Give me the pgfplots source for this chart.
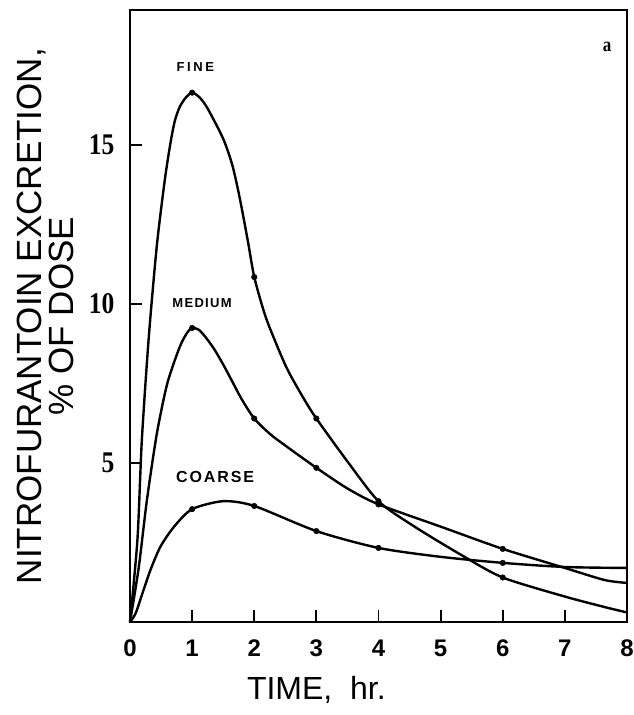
\documentclass[border=0pt]{standalone}
\usepackage{fontspec}
\setmainfont{Liberation Sans}
\newfontfamily\yfont[FakeStretch=0.85]{Liberation Serif}
\usepackage{pgfplots}
\pgfplotsset{compat=1.18}
\begin{document}
\begin{tikzpicture}
\begin{axis}[name=ax, scale only axis, width=497pt, height=612pt,
  xmin=0, xmax=8, ymin=0, ymax=19.25,
  axis line style={line width=2.5pt},
  tick pos=left, tick align=inside,
  major tick length=12pt,
  tick style={line width=1.8pt, black},
  xtick={0,...,8}, ytick={5,10,15}, clip=false,
  /pgf/number format/assume math mode=true,
  xticklabel style={font=\bfseries\fontsize{24}{24}\selectfont, yshift=-14pt},
  yticklabel style={font=\yfont\bfseries\fontsize{30}{30}\selectfont, xshift=-12pt},
]
% FINE
\addplot[smooth, tension=0.45, line width=2.4pt, black] coordinates {
 (0,0) (0.12,2.6) (0.19,5.7) (0.3,8.9) (0.43,11.8) (0.56,13.9) (0.65,15.05) (0.72,15.75)
 (0.8,16.2) (0.9,16.5) (1,16.65) (1.12,16.5) (1.25,16.15) (1.5,15.2) (1.65,14.35)
 (1.77,13.3) (1.9,11.95) (2,10.85) (2.15,9.8) (2.26,9.2) (2.52,8.0) (2.79,7.05)
 (3,6.4) (3.5,5.05) (4,3.8) (4.58,3.0) (5.34,2.1) (6,1.4) (7,0.8) (7.64,0.47) (8,0.3)};
\addplot[only marks, mark=*, mark size=2.8pt, black] coordinates {
 (1,16.65) (2,10.85) (3,6.4) (4,3.8) (6,1.4)};
% MEDIUM
\addplot[smooth, tension=0.45, line width=2.4pt, black] coordinates {
 (0,0) (0.14,1.7) (0.27,3.8) (0.43,5.9) (0.6,7.5) (0.8,8.65) (0.92,9.1) (1,9.25)
 (1.1,9.2) (1.2,9.0) (1.35,8.6) (1.5,8.1) (1.65,7.55) (1.8,7.0) (2,6.4) (2.25,5.92)
 (2.5,5.55) (3,4.85) (3.5,4.2) (4,3.7) (5,3.0) (6,2.3) (7,1.7) (7.64,1.32) (8,1.23)};
\addplot[only marks, mark=*, mark size=2.8pt, black] coordinates {
 (1,9.25) (2,6.4) (3,4.85) (4,3.7) (6,2.3)};
% COARSE
\addplot[smooth, tension=0.45, line width=2.4pt, black] coordinates {
 (0,0) (0.09,0.27) (0.2,0.9) (0.33,1.64) (0.49,2.37) (0.71,3.0) (1,3.55)
 (1.5,3.8) (2,3.65) (3,2.86) (4,2.33) (5,2.05) (6,1.86) (7,1.73) (8,1.7)};
\addplot[only marks, mark=*, mark size=2.8pt, black] coordinates {
 (1,3.55) (2,3.65) (3,2.86) (4,2.33) (6,1.86)};
% labels
\node[font=\bfseries\fontsize{13}{13}\selectfont\addfontfeature{LetterSpace=20}] at (axis cs:1.05,17.45) {FINE};
\node[font=\bfseries\fontsize{13}{13}\selectfont\addfontfeature{LetterSpace=10}] at (axis cs:1.16,10.03) {MEDIUM};
\node[font=\bfseries\fontsize{16}{16}\selectfont\addfontfeature{LetterSpace=12}] at (axis cs:1.37,4.56) {COARSE};
\node[font=\yfont\bfseries\fontsize{20}{20}\selectfont] at (axis cs:7.68,18.1) {a};
\node[rotate=90, font=\fontsize{35}{35}\selectfont] at (axis cs:-1.58,9.62) {NITROFURANTOIN EXCRETION,};
\node[rotate=90, font=\fontsize{35}{35}\selectfont] at (axis cs:-1.1,9.62) {\% OF DOSE};
\node[font=\fontsize{32}{32}\selectfont] at (axis cs:3.0,-2.15) {TIME,\ \ hr.};
\end{axis}
\pgfresetboundingbox
\path ([xshift=-130pt,yshift=-93pt]ax.south west) rectangle ([xshift=7pt,yshift=10pt]ax.north east);
\end{tikzpicture}
\end{document}
